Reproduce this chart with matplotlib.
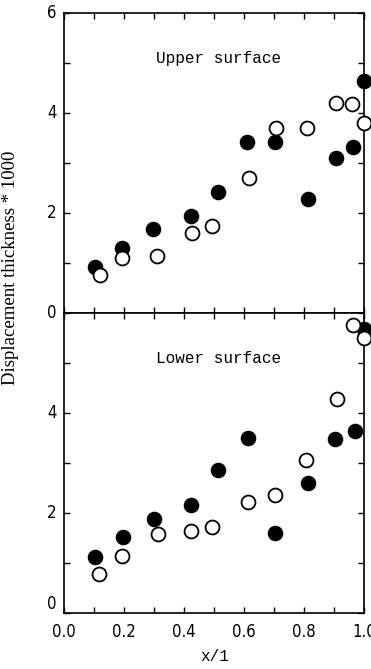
import matplotlib
matplotlib.use("Agg")
import matplotlib.pyplot as plt
from matplotlib.ticker import MultipleLocator

# boundary layer displacement thickness (x1000) along the chord
up_x_fill = [0.105, 0.192, 0.297, 0.422, 0.514, 0.611, 0.702, 0.813, 0.906, 0.963, 1.0]
up_y_fill = [0.93, 1.30, 1.68, 1.95, 2.43, 3.43, 3.43, 2.28, 3.10, 3.32, 4.65]
up_x_open = [0.120, 0.194, 0.311, 0.426, 0.494, 0.617, 0.708, 0.811, 0.908, 0.961, 1.0]
up_y_open = [0.77, 1.10, 1.15, 1.60, 1.75, 2.70, 3.70, 3.71, 4.20, 4.18, 3.80]

lo_x_fill = [0.105, 0.197, 0.300, 0.423, 0.515, 0.612, 0.702, 0.814, 0.905, 0.969, 1.0]
lo_y_fill = [1.12, 1.53, 1.89, 2.17, 2.87, 3.50, 1.60, 2.61, 3.48, 3.65, 5.69]
lo_x_open = [0.116, 0.195, 0.312, 0.424, 0.495, 0.614, 0.705, 0.808, 0.911, 0.963, 1.0]
lo_y_open = [0.78, 1.15, 1.58, 1.65, 1.72, 2.22, 2.37, 3.07, 4.28, 5.77, 5.51]

xticks = [0.0, 0.2, 0.4, 0.6, 0.8, 1.0]
xticklabels = ["0.0", "0.2", "0.4", "0.6", "0.8", "1.0"]
yticks = [0, 2, 4, 6]

tickfont = ['DejaVu Sans']
monofont = ['Liberation Mono', 'DejaVu Sans Mono']

fig = plt.figure(figsize=(3.71, 6.69), dpi=100)
ax1 = fig.add_axes([0.1725, 0.5321, 0.8086, 0.4484])
ax2 = fig.add_axes([0.1725, 0.0837, 0.8086, 0.4484])

def style(ax):
    ax.set_xlim(0, 1.0)
    ax.set_ylim(0, 6)
    ax.xaxis.set_major_locator(MultipleLocator(0.1))
    ax.yaxis.set_major_locator(MultipleLocator(1))
    ax.tick_params(direction='in', length=4, width=1, top=True, right=True,
                   labelbottom=False, labelleft=False)
    for s in ax.spines.values():
        s.set_linewidth(1.2)

for ax, xf, yf, xo, yo, name in [
        (ax1, up_x_fill, up_y_fill, up_x_open, up_y_open, "Upper surface"),
        (ax2, lo_x_fill, lo_y_fill, lo_x_open, lo_y_open, "Lower surface")]:
    style(ax)
    ax.scatter(xf, yf, s=100, c='black', edgecolors='black', linewidths=1.2,
               clip_on=False, zorder=3)
    ax.scatter(xo, yo, s=100, facecolors='white', edgecolors='black',
               linewidths=1.3, clip_on=False, zorder=3)
    ax.text(0.515, 5.1, name, family=monofont, fontsize=11.5,
            ha='center', va='center')
    for v in yticks:
        if ax is ax2 and v == 6:
            continue
        va = 'bottom' if (ax is ax2 and v == 0) else 'center'
        ax.text(-0.025, v, str(v), family=tickfont, fontstretch='condensed',
                fontsize=12, ha='right', va=va)

for x, lab in zip(xticks, xticklabels):
    ax2.text(x, -0.2, lab, family=tickfont, fontstretch='condensed',
             fontsize=12, ha='center', va='top')

fig.text(0.58, 0.018, "x/1", family=monofont, fontsize=11.5, ha='center', va='center')
fig.text(0.027, 0.599, "Displacement thickness * 1000", family=['Liberation Serif', 'DejaVu Serif'],
         fontsize=13.5, rotation=90, ha='center', va='center')

fig.savefig("out.png", dpi=100)
